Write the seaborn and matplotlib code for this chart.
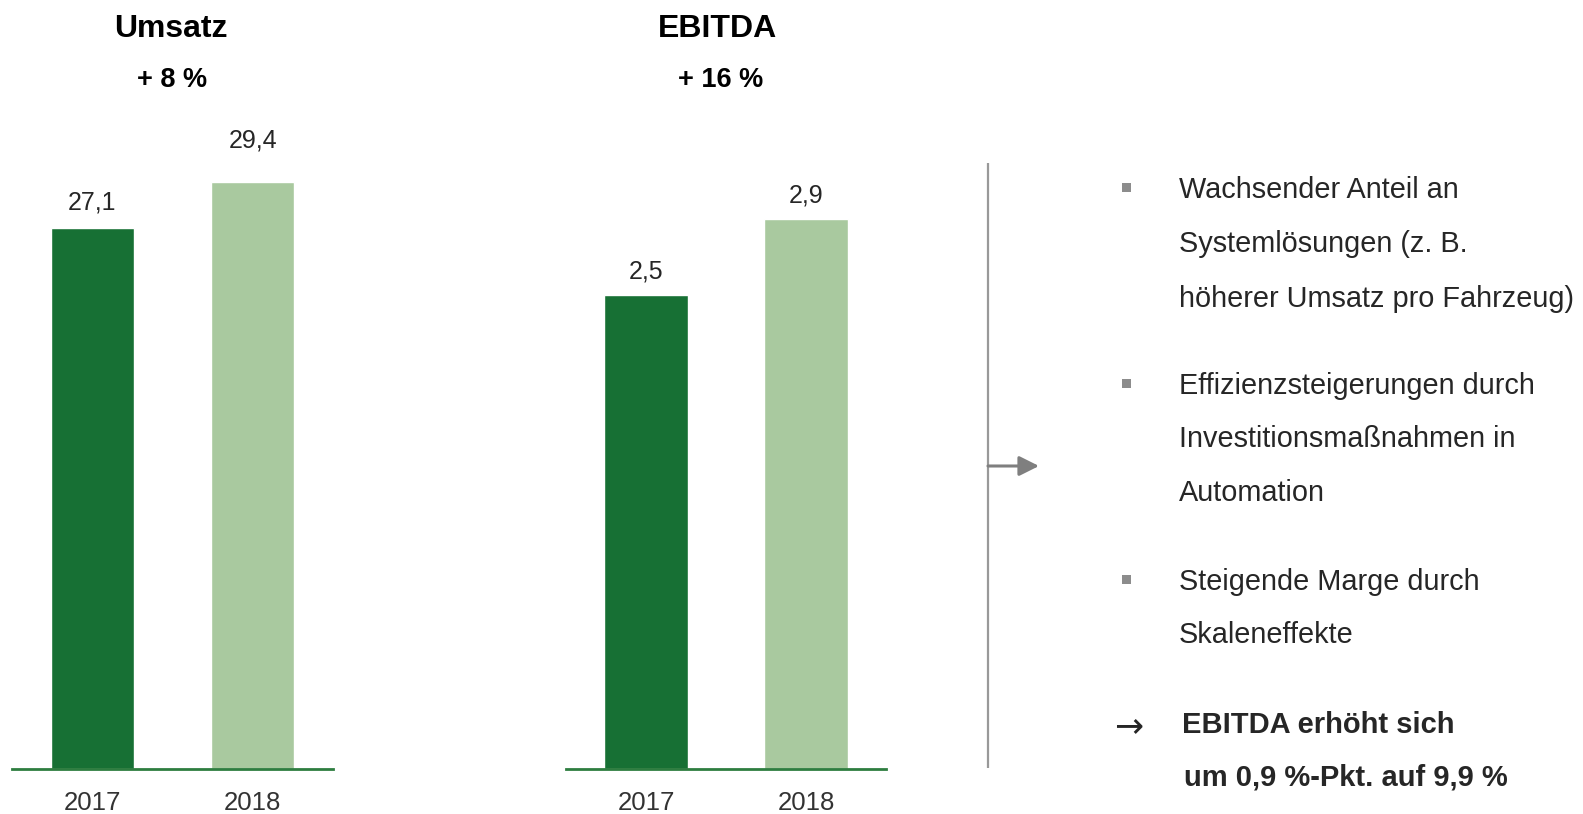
import numpy as np
import pandas as pd
import matplotlib
matplotlib.use("Agg")
import matplotlib.pyplot as plt
from matplotlib.patches import Rectangle
import seaborn as sns

# data
years        = ["2017", "2018"]
umsatz       = [27.1, 29.4]
ebitda       = [2.5, 2.9]
umsatz_title = "Umsatz"
umsatz_delta = "+ 8 %"
ebitda_title = "EBITDA"
ebitda_delta = "+ 16 %"
bullets = [
    ["Wachsender Anteil an", "Systemlösungen (z. B.", "höherer Umsatz pro Fahrzeug)"],
    ["Effizienzsteigerungen durch", "Investitionsmaßnahmen in", "Automation"],
    ["Steigende Marge durch", "Skaleneffekte"],
]
conclusion = ["EBITDA erhöht sich", "um 0,9 %-Pkt. auf 9,9 %"]

# style
DARK  = "#177034"
LIGHT = "#A9C99F"
AXIS  = "#2E7D40"
TXT   = "#262626"
W, H = 1583, 814

sns.set_style("white")
plt.rcParams["font.family"] = ["Liberation Sans", "DejaVu Sans"]

fig = plt.figure(figsize=(W / 100, H / 100), dpi=100)

def px_axes(x0, x1, y0, y1):
    # pixel box -> figure fraction
    return fig.add_axes([x0 / W, 1 - y1 / H, (x1 - x0) / W, (y1 - y0) / H])

def bar_panel(ax, vals, ytop, offsets):
    df = pd.DataFrame({"year": years, "val": vals})
    sns.barplot(data=df, x="year", y="val", hue="year", palette=[DARK, LIGHT],
                width=0.52, legend=False, ax=ax, saturation=1)
    ax.set_xlim(-0.5, 1.5)
    ax.set_ylim(0, ytop)
    for s in ["top", "right", "left"]:
        ax.spines[s].set_visible(False)
    ax.spines["bottom"].set_color(AXIS)
    ax.spines["bottom"].set_linewidth(2)
    ax.set_yticks([])
    ax.set_xlabel("")
    ax.set_ylabel("")
    ax.tick_params(axis="x", length=0, pad=15.5, labelsize=18.5, labelcolor="#333333")
    for i, v in enumerate(vals):
        ax.annotate(f"{v:.1f}".replace(".", ","), (i, v), xytext=(0, offsets[i]),
                    textcoords="offset pixels", ha="center", va="baseline",
                    fontsize=18, color=TXT)

ax1 = px_axes(12, 333, 100, 769)
bar_panel(ax1, umsatz, 669 / 19.96, [19, 35])
ax2 = px_axes(566, 886, 100, 769)
bar_panel(ax2, ebitda, 669 / 189.5, [17, 17])

# overlay in pixel coordinates
ov = fig.add_axes([0, 0, 1, 1])
ov.set_xlim(0, W)
ov.set_ylim(H, 0)
ov.axis("off")
ov.patch.set_alpha(0)

ov.text(171, 37, umsatz_title, ha="center", va="baseline", fontsize=23, fontweight="bold", color="black")
ov.text(172, 87, umsatz_delta, ha="center", va="baseline", fontsize=19.5, fontweight="bold", color="black")
ov.text(718, 37, ebitda_title, ha="center", va="baseline", fontsize=23, fontweight="bold", color="black")
ov.text(721, 87, ebitda_delta, ha="center", va="baseline", fontsize=19.5, fontweight="bold", color="black")

# separator and arrow
ov.plot([988, 988], [163, 768], color="#999999", lw=1.6, solid_capstyle="butt")
ov.annotate("", xy=(1039, 466), xytext=(988, 466),
            arrowprops=dict(arrowstyle="-|>,head_length=1.2,head_width=0.6",
                            color="#7f7f7f", lw=2.2, shrinkA=0, shrinkB=0))

# bullet list
baselines = [[198, 252, 307], [394, 447, 501], [590, 643]]
for lines, ys in zip(bullets, baselines):
    ov.add_patch(Rectangle((1122, ys[0] - 15), 9, 9, color="#8c8c8c", lw=0))
    for line, y in zip(lines, ys):
        ov.text(1179, y, line, ha="left", va="baseline", fontsize=20.8, color=TXT)

ov.text(1114, 736, "→", ha="left", va="baseline", fontsize=25, color=TXT, family="DejaVu Sans")
ov.text(1182, 733, conclusion[0], ha="left", va="baseline", fontsize=21, fontweight="bold", color=TXT)
ov.text(1184, 786, conclusion[1], ha="left", va="baseline", fontsize=21, fontweight="bold", color=TXT)

fig.savefig("out.png", dpi=100)
